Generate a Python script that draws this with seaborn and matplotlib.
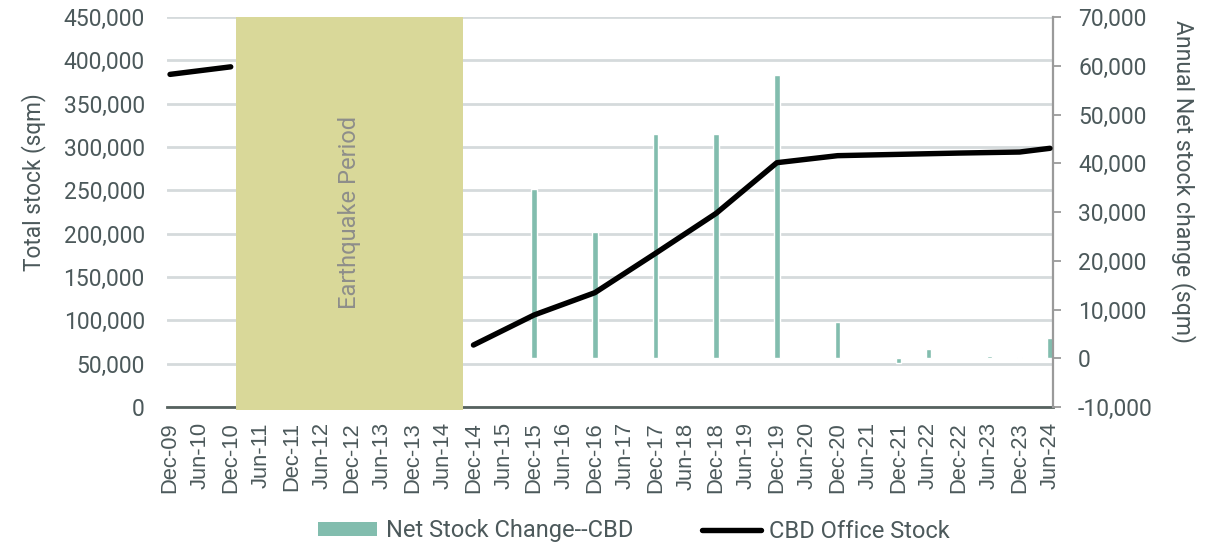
import matplotlib
matplotlib.use("Agg")
import matplotlib.pyplot as plt
from matplotlib.patches import Patch
from matplotlib.lines import Line2D
from matplotlib.ticker import FuncFormatter, FixedLocator
import seaborn as sns
import pandas as pd

# ---------------- data ----------------
periods = ["Dec-09", "Jun-10", "Dec-10", "Jun-11", "Dec-11", "Jun-12", "Dec-12", "Jun-13",
           "Dec-13", "Jun-14", "Dec-14", "Jun-15", "Dec-15", "Jun-16", "Dec-16", "Jun-17",
           "Dec-17", "Jun-18", "Dec-18", "Jun-19", "Dec-19", "Jun-20", "Dec-20", "Jun-21",
           "Dec-21", "Jun-22", "Dec-22", "Jun-23", "Dec-23", "Jun-24"]

bar_periods = ["Dec-15", "Dec-16", "Dec-17", "Dec-18", "Dec-19", "Dec-20",
               "Dec-21", "Jun-22", "Jun-23", "Dec-23", "Jun-24"]
net_change = [34700, 25900, 46100, 46100, 58200, 7400, -1000, 1850, 500, 300, 4250]

line_periods_pre = ["Dec-09", "Dec-10"]
stock_pre = [383800, 392500]
line_periods_post = ["Dec-14", "Dec-15", "Dec-16", "Dec-17", "Dec-18", "Dec-19",
                     "Dec-20", "Dec-21", "Dec-22", "Dec-23", "Jun-24"]
stock_post = [71500, 106200, 131900, 177300, 223500, 281900,
              290000, 291500, 293000, 294200, 298500]

quake_start, quake_end = 2.18, 9.66
quake_label = "Earthquake Period"

left_ticks = list(range(0, 450001, 50000))
right_ticks = list(range(-10000, 70001, 10000))

# ---------------- style ----------------
sns.set_style("white")
plt.rcParams["font.family"] = ["Roboto", "DejaVu Sans"]
TXT = "#4C595B"
BAR = "#82BDAE"
SHADE = "#D9D899"

fig, ax = plt.subplots(figsize=(12.25, 5.45), dpi=100)
fig.subplots_adjust(left=167/1225, right=1053/1225, bottom=1-407/545, top=1-17/545)
ax2 = ax.twinx()
ax3 = ax.twinx()

# bars (right axis)
df_bar = pd.DataFrame({"period": bar_periods, "net": net_change})
sns.barplot(data=df_bar, x="period", y="net", order=periods, color=BAR,
            saturation=1, width=0.18, errorbar=None, ax=ax2)

# line (left scale, top layer)
df_line = pd.DataFrame({
    "pos": [periods.index(p) for p in line_periods_pre] + [periods.index(p) for p in line_periods_post],
    "stock": stock_pre + stock_post,
    "seg": [0] * len(line_periods_pre) + [1] * len(line_periods_post),
})
sns.lineplot(data=df_line, x="pos", y="stock", units="seg", estimator=None,
             color="black", lw=3.9, solid_capstyle="round", ax=ax3, legend=False)

# limits
for a in (ax, ax2, ax3):
    a.set_xlim(-0.1, 29.1)
ax.set_ylim(0, 450000)
ax3.set_ylim(0, 450000)
ax2.set_ylim(-10000, 70000)

# earthquake shading
ax.axvspan(quake_start, quake_end, ymin=-0.008, ymax=1, color=SHADE, lw=0,
           zorder=3, clip_on=False)
ax.text((quake_start + quake_end) / 2, 0.5, quake_label, transform=ax.get_xaxis_transform(),
        rotation=90, ha="center", va="center", fontsize=17, color="#8E8E8A", zorder=4)

# grid
ax.set_axisbelow(True)
ax.yaxis.grid(True, color="#D5DADC", lw=2.0)
ax.xaxis.grid(False)
ax2.grid(False)
ax3.grid(False)

# left axis
ax.yaxis.set_major_locator(FixedLocator(left_ticks))
ax.yaxis.set_major_formatter(FuncFormatter(lambda v, p: f"{v:,.0f}"))
ax.tick_params(axis="y", length=0, pad=16, labelsize=16.5, labelcolor=TXT)
ax.set_ylabel("Total stock (sqm)", fontsize=16.3, color=TXT)
ax.yaxis.set_label_coords(-0.137, 0.577)

# right axis
ax2.yaxis.set_major_locator(FixedLocator(right_ticks))
ax2.yaxis.set_major_formatter(FuncFormatter(lambda v, p: f"{v:,.0f}"))
ax2.tick_params(axis="y", length=6, width=1.3, color="#9A9A9A", pad=12,
                labelsize=16.5, labelcolor=TXT)
ax2.set_ylabel("Annual Net stock change (sqm)", fontsize=16.6, color=TXT,
               rotation=270, va="center", ha="center")
ax2.yaxis.set_label_coords(1.147, 0.577)
ax2.set_xlabel("")

# x axis
ax.xaxis.set_major_locator(FixedLocator(range(len(periods))))
ax.set_xticklabels(periods, rotation=90, fontsize=15.8, color=TXT,
                   family=["Liberation Sans", "DejaVu Sans"])
ax.tick_params(axis="x", length=0, pad=11)
ax.set_xlabel("")

# third axes invisible
ax3.axis("off")
ax3.set_xlim(-0.1, 29.1)

# spines
for s in ("left", "top", "right"):
    ax.spines[s].set_visible(False)
ax.spines["bottom"].set_color("#56625F")
ax.spines["bottom"].set_linewidth(2)
for s in ("left", "top", "bottom"):
    ax2.spines[s].set_visible(False)
ax2.spines["right"].set_color("#9A9A9A")
ax2.spines["right"].set_linewidth(1.6)
ax2.tick_params(axis="x", bottom=False, labelbottom=False)

# legend
handles = [Patch(facecolor=BAR, edgecolor="none"),
           Line2D([0], [0], color="black", lw=3.9, solid_capstyle="round")]
leg = fig.legend(handles, ["Net Stock Change--CBD", "CBD Office Stock"],
                 loc="center", bbox_to_anchor=(634/1225, 1-531/545), ncol=2,
                 frameon=False, fontsize=17, handlelength=2.5, handleheight=0.5,
                 columnspacing=2.9, handletextpad=0.35, labelcolor=TXT)

fig.savefig("out.png", dpi=100)
